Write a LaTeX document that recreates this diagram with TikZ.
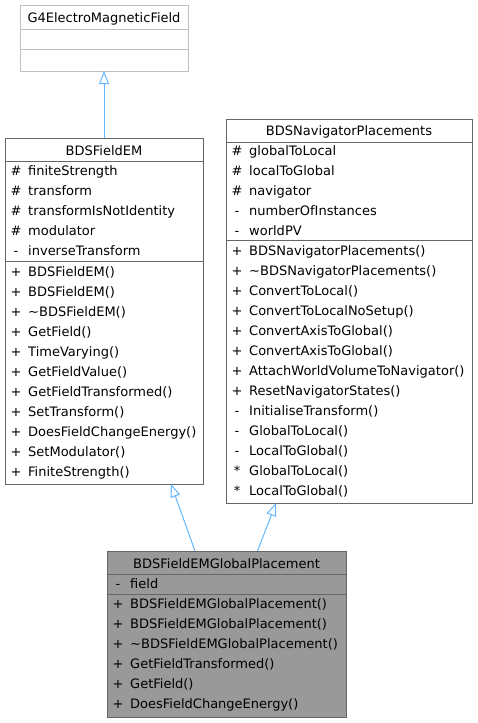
\documentclass[tikz,border=0pt]{standalone}
\usepackage{fontspec}
\setmainfont{DejaVu Sans}
\usetikzlibrary{arrows.meta}
\definecolor{edgeblue}{HTML}{63B8FF}
\definecolor{boxgray}{HTML}{666666}
\definecolor{lightgray}{HTML}{BFBFBF}
\definecolor{fillgray}{HTML}{999999}
\begin{document}
\begin{tikzpicture}[x=1pt,y=-1pt,
  font=\fontsize{13}{15}\selectfont,
  cls/.style={draw=boxgray, line width=1pt, anchor=north west, inner sep=0pt, outer sep=0pt},
  ext/.style={draw=lightgray, line width=1pt, anchor=north west, inner sep=0pt, outer sep=0pt},
  sep/.style={draw=boxgray, line width=1pt},
  extsep/.style={draw=lightgray, line width=1pt},
  hdr/.style={anchor=center, inner sep=0pt, text height=11pt, text depth=0pt},
  sym/.style={anchor=center, inner sep=0pt, text height=11pt, text depth=0pt},
  mem/.style={anchor=west, inner sep=0pt, text height=11pt, text depth=0pt},
  inh/.style={draw=edgeblue, line width=1pt, -{Triangle[open, length=13pt, width=10pt]}}
]
\useasboundingbox (0,0) rectangle (477,723);

% G4ElectroMagneticField
\node[ext, minimum width=168pt, minimum height=66pt] (g4) at (20,5) {};
\draw[extsep] (20,29) -- (188,29);
\draw[extsep] (20,49) -- (188,49);
\node[hdr] (g4h) at (104,17) {G4ElectroMagneticField};

% BDSFieldEM
\node[cls, minimum width=198pt, minimum height=346pt] (fem) at (5,138) {};
\draw[sep] (5,161) -- (203,161);
\draw[sep] (5,261) -- (203,261);
\node[hdr] (femh) at (104,150) {BDSFieldEM};
\foreach \s/\t [count=\i from 0] in {\#/finiteStrength, \#/transform, \#/transformIsNotIdentity, \#/modulator, -/inverseTransform}{
  \node[sym] (fems\i) at (16,170+20*\i) {\s};
  \node[mem] (fema\i) at (28,170+20*\i) {\t};
}
\foreach \s/\t [count=\i from 0] in {+/BDSFieldEM(), +/BDSFieldEM(), +/\textasciitilde BDSFieldEM(), +/GetField(), +/TimeVarying(), +/GetFieldValue(), +/GetFieldTransformed(), +/SetTransform(), +/DoesFieldChangeEnergy(), +/SetModulator(), +/FiniteStrength()}{
  \node[sym] (femt\i) at (16,271+20*\i) {\s};
  \node[mem] (femm\i) at (28,271+20*\i) {\t};
}

% BDSNavigatorPlacements
\node[cls, minimum width=246pt, minimum height=384pt] (nav) at (226,119) {};
\draw[sep] (226,142) -- (472,142);
\draw[sep] (226,240) -- (472,240);
\node[hdr] (navh) at (349,130) {BDSNavigatorPlacements};
\foreach \s/\t [count=\i from 0] in {\#/globalToLocal, \#/localToGlobal, \#/navigator, -/numberOfInstances, -/worldPV}{
  \node[sym] (navs\i) at (237,150+20*\i) {\s};
  \node[mem] (nava\i) at (249,150+20*\i) {\t};
}
\foreach \s/\t [count=\i from 0] in {+/BDSNavigatorPlacements(), +/\textasciitilde BDSNavigatorPlacements(), +/ConvertToLocal(), +/ConvertToLocalNoSetup(), +/ConvertAxisToGlobal(), +/ConvertAxisToGlobal(), +/AttachWorldVolumeToNavigator(), +/ResetNavigatorStates(), -/InitialiseTransform(), -/GlobalToLocal(), -/LocalToGlobal(), */GlobalToLocal(), */LocalToGlobal()}{
  \node[sym] (navt\i) at (237,250+20*\i) {\s};
  \node[mem] (navm\i) at (249,250+20*\i) {\t};
}

% BDSFieldEMGlobalPlacement
\node[cls, fill=fillgray, minimum width=239pt, minimum height=166pt] (gp) at (107,551) {};
\draw[sep] (107,574) -- (346,574);
\draw[sep] (107,594) -- (346,594);
\node[hdr] (gph) at (226.5,563) {BDSFieldEMGlobalPlacement};
\node[sym] (gps0) at (118,583) {-};
\node[mem] (gpa0) at (130,583) {field};
\foreach \s/\t [count=\i from 0] in {+/BDSFieldEMGlobalPlacement(), +/BDSFieldEMGlobalPlacement(), +/\textasciitilde BDSFieldEMGlobalPlacement(), +/GetFieldTransformed(), +/GetField(), +/DoesFieldChangeEnergy()}{
  \node[sym] (gpt\i) at (118,603+20*\i) {\s};
  \node[mem] (gpm\i) at (130,603+20*\i) {\t};
}

% inheritance
\draw[inh] (fem.north) -- (g4.south);
\draw[inh] ([xshift=-31.5pt]gp.north) -- ([xshift=67pt]fem.south);
\draw[inh] ([xshift=31pt]gp.north) -- ([xshift=-73pt]nav.south);
\end{tikzpicture}
\end{document}
